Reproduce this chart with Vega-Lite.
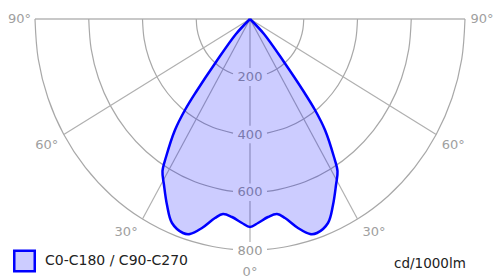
{
  "$schema": "https://vega.github.io/schema/vega-lite/v6.json",
  "width": 494,
  "height": 279,
  "padding": 0,
  "autosize": {"type": "none"},
  "config": {"view": {"stroke": null}},
  "datasets": {
    "rings": [
      {"ring": "200R", "i": 1, "x": 200, "y": 0}, {"ring": "200R", "i": 2, "x": 196.96, "y": -34.73}, {"ring": "200R", "i": 3, "x": 187.94, "y": -68.4}, {"ring": "200R", "i": 4, "x": 173.21, "y": -100}, {"ring": "200R", "i": 5, "x": 153.21, "y": -128.56}, {"ring": "200R", "i": 6, "x": 128.56, "y": -153.21}, {"ring": "200R", "i": 7, "x": 100, "y": -173.21}, {"ring": "200R", "i": 8, "x": 68.4, "y": -187.94}, {"ring": "200R", "i": 9, "x": 63.13, "y": -189.78},
      {"ring": "200L", "i": 1, "x": -200, "y": 0}, {"ring": "200L", "i": 2, "x": -196.96, "y": -34.73}, {"ring": "200L", "i": 3, "x": -187.94, "y": -68.4}, {"ring": "200L", "i": 4, "x": -173.21, "y": -100}, {"ring": "200L", "i": 5, "x": -153.21, "y": -128.56}, {"ring": "200L", "i": 6, "x": -128.56, "y": -153.21}, {"ring": "200L", "i": 7, "x": -100, "y": -173.21}, {"ring": "200L", "i": 8, "x": -68.4, "y": -187.94}, {"ring": "200L", "i": 9, "x": -63.13, "y": -189.78},
      {"ring": "400R", "i": 1, "x": 400, "y": 0}, {"ring": "400R", "i": 2, "x": 393.92, "y": -69.46}, {"ring": "400R", "i": 3, "x": 375.88, "y": -136.81}, {"ring": "400R", "i": 4, "x": 346.41, "y": -200}, {"ring": "400R", "i": 5, "x": 306.42, "y": -257.12}, {"ring": "400R", "i": 6, "x": 257.12, "y": -306.42}, {"ring": "400R", "i": 7, "x": 200, "y": -346.41}, {"ring": "400R", "i": 8, "x": 136.81, "y": -375.88}, {"ring": "400R", "i": 9, "x": 63.26, "y": -394.96},
      {"ring": "400L", "i": 1, "x": -400, "y": 0}, {"ring": "400L", "i": 2, "x": -393.92, "y": -69.46}, {"ring": "400L", "i": 3, "x": -375.88, "y": -136.81}, {"ring": "400L", "i": 4, "x": -346.41, "y": -200}, {"ring": "400L", "i": 5, "x": -306.42, "y": -257.12}, {"ring": "400L", "i": 6, "x": -257.12, "y": -306.42}, {"ring": "400L", "i": 7, "x": -200, "y": -346.41}, {"ring": "400L", "i": 8, "x": -136.81, "y": -375.88}, {"ring": "400L", "i": 9, "x": -63.26, "y": -394.96},
      {"ring": "600R", "i": 1, "x": 600, "y": 0}, {"ring": "600R", "i": 2, "x": 590.88, "y": -104.19}, {"ring": "600R", "i": 3, "x": 563.82, "y": -205.21}, {"ring": "600R", "i": 4, "x": 519.62, "y": -300}, {"ring": "600R", "i": 5, "x": 459.63, "y": -385.67}, {"ring": "600R", "i": 6, "x": 385.67, "y": -459.63}, {"ring": "600R", "i": 7, "x": 300, "y": -519.62}, {"ring": "600R", "i": 8, "x": 205.21, "y": -563.82}, {"ring": "600R", "i": 9, "x": 104.19, "y": -590.88}, {"ring": "600R", "i": 10, "x": 63.24, "y": -596.66},
      {"ring": "600L", "i": 1, "x": -600, "y": 0}, {"ring": "600L", "i": 2, "x": -590.88, "y": -104.19}, {"ring": "600L", "i": 3, "x": -563.82, "y": -205.21}, {"ring": "600L", "i": 4, "x": -519.62, "y": -300}, {"ring": "600L", "i": 5, "x": -459.63, "y": -385.67}, {"ring": "600L", "i": 6, "x": -385.67, "y": -459.63}, {"ring": "600L", "i": 7, "x": -300, "y": -519.62}, {"ring": "600L", "i": 8, "x": -205.21, "y": -563.82}, {"ring": "600L", "i": 9, "x": -104.19, "y": -590.88}, {"ring": "600L", "i": 10, "x": -63.24, "y": -596.66},
      {"ring": "800R", "i": 1, "x": 800, "y": 0}, {"ring": "800R", "i": 2, "x": 787.85, "y": -138.92}, {"ring": "800R", "i": 3, "x": 751.76, "y": -273.61}, {"ring": "800R", "i": 4, "x": 692.82, "y": -400}, {"ring": "800R", "i": 5, "x": 612.84, "y": -514.23}, {"ring": "800R", "i": 6, "x": 514.23, "y": -612.84}, {"ring": "800R", "i": 7, "x": 400, "y": -692.82}, {"ring": "800R", "i": 8, "x": 273.61, "y": -751.76}, {"ring": "800R", "i": 9, "x": 138.92, "y": -787.85}, {"ring": "800R", "i": 10, "x": 63.32, "y": -797.49},
      {"ring": "800L", "i": 1, "x": -800, "y": 0}, {"ring": "800L", "i": 2, "x": -787.85, "y": -138.92}, {"ring": "800L", "i": 3, "x": -751.76, "y": -273.61}, {"ring": "800L", "i": 4, "x": -692.82, "y": -400}, {"ring": "800L", "i": 5, "x": -612.84, "y": -514.23}, {"ring": "800L", "i": 6, "x": -514.23, "y": -612.84}, {"ring": "800L", "i": 7, "x": -400, "y": -692.82}, {"ring": "800L", "i": 8, "x": -273.61, "y": -751.76}, {"ring": "800L", "i": 9, "x": -138.92, "y": -787.85}, {"ring": "800L", "i": 10, "x": -63.32, "y": -797.49}
    ],
    "rays": [
      {"ray": "60R", "x": 0, "y": 0}, {"ray": "60R", "x": 692.82, "y": -400},
      {"ray": "60L", "x": 0, "y": 0}, {"ray": "60L", "x": -692.82, "y": -400},
      {"ray": "30R", "x": 0, "y": 0}, {"ray": "30R", "x": 400, "y": -692.82},
      {"ray": "30L", "x": 0, "y": 0}, {"ray": "30L", "x": -400, "y": -692.82},
      {"ray": "0a", "x": 0, "y": 0}, {"ray": "0a", "x": 0, "y": -170},
      {"ray": "0b", "x": 0, "y": -232}, {"ray": "0b", "x": 0, "y": -370},
      {"ray": "0c", "x": 0, "y": -430}, {"ray": "0c", "x": 0, "y": -570},
      {"ray": "0d", "x": 0, "y": -630}, {"ray": "0d", "x": 0, "y": -772}
    ],
    "top": [
      {"x": -800, "y": 0}, {"x": 800, "y": 0}
    ],
    "curve": [
      {"i": 1, "x": 0, "y": 0}, {"i": 2, "x": 52.1, "y": -51.9}, {"i": 3, "x": 126.5, "y": -148.9}, {"i": 4, "x": 200.9, "y": -252.8}, {"i": 5, "x": 241.9, "y": -315.2}, {"i": 6, "x": 279.1, "y": -384.4}, {"i": 7, "x": 312.5, "y": -477.9}, {"i": 8, "x": 325.6, "y": -527.0}, {"i": 9, "x": 320, "y": -574.9}, {"i": 10, "x": 308.8, "y": -644.2}, {"i": 11, "x": 290.2, "y": -706.5}, {"i": 12, "x": 249.3, "y": -741.1}, {"i": 13, "x": 223.3, "y": -744.6}, {"i": 14, "x": 178.6, "y": -723.8}, {"i": 15, "x": 130.2, "y": -689.2}, {"i": 16, "x": 100.5, "y": -675.3}, {"i": 17, "x": 67, "y": -685.7}, {"i": 18, "x": 29.8, "y": -706.5}, {"i": 19, "x": 0, "y": -720.3},
      {"i": 20, "x": -29.8, "y": -706.5}, {"i": 21, "x": -67, "y": -685.7}, {"i": 22, "x": -100.5, "y": -675.3}, {"i": 23, "x": -130.2, "y": -689.2}, {"i": 24, "x": -178.6, "y": -723.8}, {"i": 25, "x": -223.3, "y": -744.6}, {"i": 26, "x": -249.3, "y": -741.1}, {"i": 27, "x": -290.2, "y": -706.5}, {"i": 28, "x": -308.8, "y": -644.2}, {"i": 29, "x": -320, "y": -574.9}, {"i": 30, "x": -325.6, "y": -527.0}, {"i": 31, "x": -312.5, "y": -477.9}, {"i": 32, "x": -279.1, "y": -384.4}, {"i": 33, "x": -241.9, "y": -315.2}, {"i": 34, "x": -200.9, "y": -252.8}, {"i": 35, "x": -126.5, "y": -148.9}, {"i": 36, "x": -52.1, "y": -51.9}, {"i": 37, "x": 0, "y": 0}
    ],
    "glabels": [
      {"t": "90°", "x": -857.6, "y": 0}, {"t": "90°", "x": 863.2, "y": 0},
      {"t": "60°", "x": -756, "y": -438}, {"t": "60°", "x": 756, "y": -438},
      {"t": "30°", "x": -461, "y": -738}, {"t": "30°", "x": 461, "y": -738},
      {"t": "0°", "x": 0, "y": -876}
    ],
    "rlabels": [
      {"t": "200", "x": 0, "y": -200}, {"t": "400", "x": 0, "y": -400}, {"t": "600", "x": 0, "y": -600}, {"t": "800", "x": 0, "y": -802}
    ],
    "legend": [
      {"t": "C0-C180 / C90-C270", "x": -839, "y": -838}
    ],
    "unit": [
      {"t": "cd/1000lm", "x": 535.8, "y": -848.5}
    ]
  },
  "encoding": {
    "x": {"field": "x", "type": "quantitative", "axis": null, "scale": {"domain": [-930.2, 907.9], "nice": false, "zero": false}},
    "y": {"field": "y", "type": "quantitative", "axis": null, "scale": {"domain": [-900.4, 65.8], "nice": false, "zero": false}}
  },
  "layer": [
    {
      "data": {"name": "top"},
      "mark": {"type": "line", "stroke": "#c8c8c8", "strokeWidth": 2.2},
      "encoding": {}
    },
    {
      "data": {"name": "rings"},
      "mark": {"type": "line", "stroke": "#a8a8a8", "strokeWidth": 1.2, "interpolate": "catmull-rom"},
      "encoding": {"detail": {"field": "ring"}, "order": {"field": "i", "type": "quantitative"}}
    },
    {
      "data": {"name": "rays"},
      "mark": {"type": "line", "stroke": "#b0b0b0", "strokeWidth": 1.2},
      "encoding": {"detail": {"field": "ray"}}
    },
    {
      "data": {"name": "glabels"},
      "mark": {"type": "text", "font": "DejaVu Sans", "fontSize": 13, "color": "#a0a0a0", "align": "center", "baseline": "middle"},
      "encoding": {"text": {"field": "t"}}
    },
    {
      "data": {"name": "rlabels"},
      "mark": {"type": "text", "font": "DejaVu Sans", "fontSize": 13, "color": "#999999", "align": "center", "baseline": "middle"},
      "encoding": {"text": {"field": "t"}}
    },
    {
      "data": {"name": "curve"},
      "mark": {"type": "line", "fill": "#0000ff", "fillOpacity": 0.2, "stroke": "#0000ff", "strokeWidth": 2.5, "interpolate": "catmull-rom", "strokeJoin": "round"},
      "encoding": {"order": {"field": "i", "type": "quantitative"}}
    },
    {
      "data": {"name": "legend"},
      "mark": {"type": "point", "shape": "square", "size": 420, "filled": true, "fill": "#ccccff", "stroke": "#0000ff", "strokeWidth": 2.5, "opacity": 1}
    },
    {
      "data": {"name": "legend"},
      "mark": {"type": "text", "font": "DejaVu Sans", "fontSize": 14, "color": "#222222", "align": "left", "baseline": "middle", "dx": 20.5},
      "encoding": {"text": {"field": "t"}}
    },
    {
      "data": {"name": "unit"},
      "mark": {"type": "text", "font": "DejaVu Sans", "fontSize": 13.5, "color": "#222222", "align": "left", "baseline": "middle"},
      "encoding": {"text": {"field": "t"}}
    }
  ]
}
